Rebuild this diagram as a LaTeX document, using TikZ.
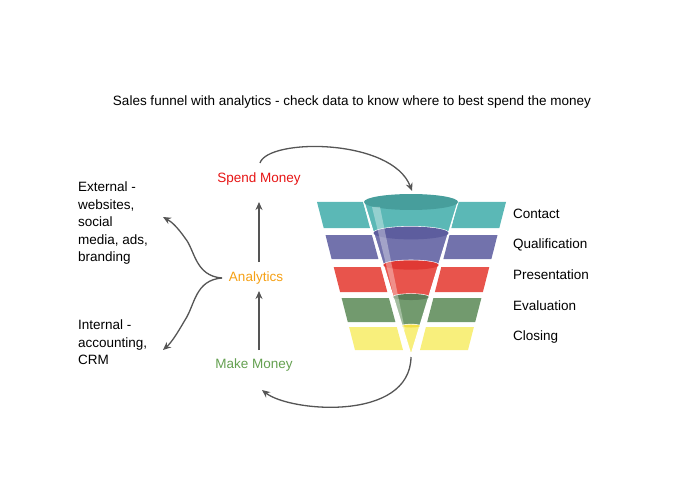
\documentclass[tikz,border=0pt]{standalone}
\usepackage{fontspec}
\setmainfont{Liberation Sans}
\usetikzlibrary{arrows.meta}
\definecolor{tealc}{HTML}{5BB8B6}\definecolor{tealr}{HTML}{479E9C}
\definecolor{purc}{HTML}{7272AC}\definecolor{purr}{HTML}{5D5D9E}
\definecolor{redc}{HTML}{E8544C}\definecolor{redr}{HTML}{E03934}
\definecolor{grnc}{HTML}{729A6E}\definecolor{grnr}{HTML}{5C7F59}
\definecolor{yelc}{HTML}{F8EF7C}\definecolor{yelr}{HTML}{F3E046}
\definecolor{arr}{HTML}{555555}
\begin{document}
\begin{tikzpicture}[x=1pt,y=-1pt,font=\fontsize{13.5}{16}\selectfont,
  lbl/.style={anchor=west,inner sep=0pt},
  con/.style={draw=arr,line width=1.3pt,-{Stealth[length=8pt,width=7pt]}},
  blk/.style={draw=none}]
\useasboundingbox (0,0) rectangle (695,494);
\node[inner sep=0pt] (title) at (352,102) {Sales funnel with analytics - check data to know where to best spend the money};
% blocks
\fill[tealc] (317,202)--(363,202)--(370,228)--(323.7,228)--cycle;
\fill[tealc] (458,202)--(506,202)--(499.3,228)--(451.3,228)--cycle;
\fill[purc] (325.5,235)--(371.9,235)--(378.4,259)--(331.6,259)--cycle;
\fill[purc] (449.5,235)--(497.5,235)--(491.4,259)--(443.4,259)--cycle;
\fill[redc] (333.7,267)--(380.6,267)--(387.3,292)--(340.1,292)--cycle;
\fill[redc] (441.3,267)--(489.3,267)--(482.9,292)--(434.9,292)--cycle;
\fill[grnc] (341.6,298)--(388.9,298)--(395.4,322)--(347.8,322)--cycle;
\fill[grnc] (433.4,298)--(481.4,298)--(475.2,322)--(427.2,322)--cycle;
\fill[yelc] (349.1,327)--(396.8,327)--(403,350)--(355,350)--cycle;
\fill[yelc] (425.9,327)--(473.9,327)--(468,350)--(420,350)--cycle;
% cone
\fill[yelc,draw=white,line width=1.2pt] (402.1,326)--(411,355)--(419.9,326)--cycle;
\foreach \ya/\ra/\yb/\rb/\c/\r in {297/17.8/326/8.9/grnc/grnr,265/27.6/297/17.8/redc/redr,233/37.5/265/27.6/purc/purr,202/47/233/37.5/tealc/tealr}{
  \fill[\c,draw=white,line width=1.2pt] (411-\ra,\ya)--(411-\rb,\yb) arc[start angle=180,end angle=360,x radius=\rb,y radius=\rb*0.17]--(411+\ra,\ya)--cycle;
}
\foreach \ya/\ra/\r in {326/8.9/yelr,297/17.8/grnr,265/27.6/redr,233/37.5/purr,202/47/tealr}{
  \fill[\r] (411,\ya) ellipse[x radius=\ra,y radius=\ra*0.17];
}
\fill[white,opacity=0.35] (372,207)--(380,207)--(405,330)--(402,330)--cycle;
% labels
\node[lbl] (contact) at (513,214) {Contact};
\node[lbl] (qual) at (513,245) {Qualification};
\node[lbl] (pres) at (513,275) {Presentation};
\node[lbl] (eval) at (513,306) {Evaluation};
\node[lbl] (clos) at (513,337) {Closing};
\node[inner sep=1pt,text={rgb,255:red,230;green,20;blue,20}] (spend) at (259,179) {Spend Money};
\node[inner sep=1pt,text={rgb,255:red,245;green,160;blue,20}] (anal) at (256,278) {Analytics};
\node[inner sep=1pt,text={rgb,255:red,100;green,160;blue,80}] (make) at (254,365) {Make Money};
\node[anchor=north west,inner sep=0pt,align=left,font=\fontsize{13.5}{17.5}\selectfont] (ext) at (78,182) {External -\\websites,\\social\\media, ads,\\branding};
\node[anchor=north west,inner sep=0pt,align=left,font=\fontsize{13.5}{17.5}\selectfont] (int) at (78,320) {Internal -\\accounting,\\CRM};
\coordinate (fTop) at (412,191);
\coordinate (fBot) at (411,357);
\coordinate (extE) at (163,217);
\coordinate (intE) at (163,350);
% connectors
\draw[con] (259,262) -- (259,202);
\draw[con] (259,350) -- (259,291);
\draw[con] (260,163) .. controls (268,138) and (392,138) .. (fTop);
\draw[con] (fBot) .. controls (410,422) and (290,412) .. (262,390);
\draw[con] (222,278) .. controls (195,276) and (195,250) .. (185,238) .. controls (178,228) and (172,222) .. (extE);
\draw[con] (222,278) .. controls (195,280) and (195,305) .. (185,320) .. controls (178,332) and (172,342) .. (intE);
\end{tikzpicture}
\end{document}
